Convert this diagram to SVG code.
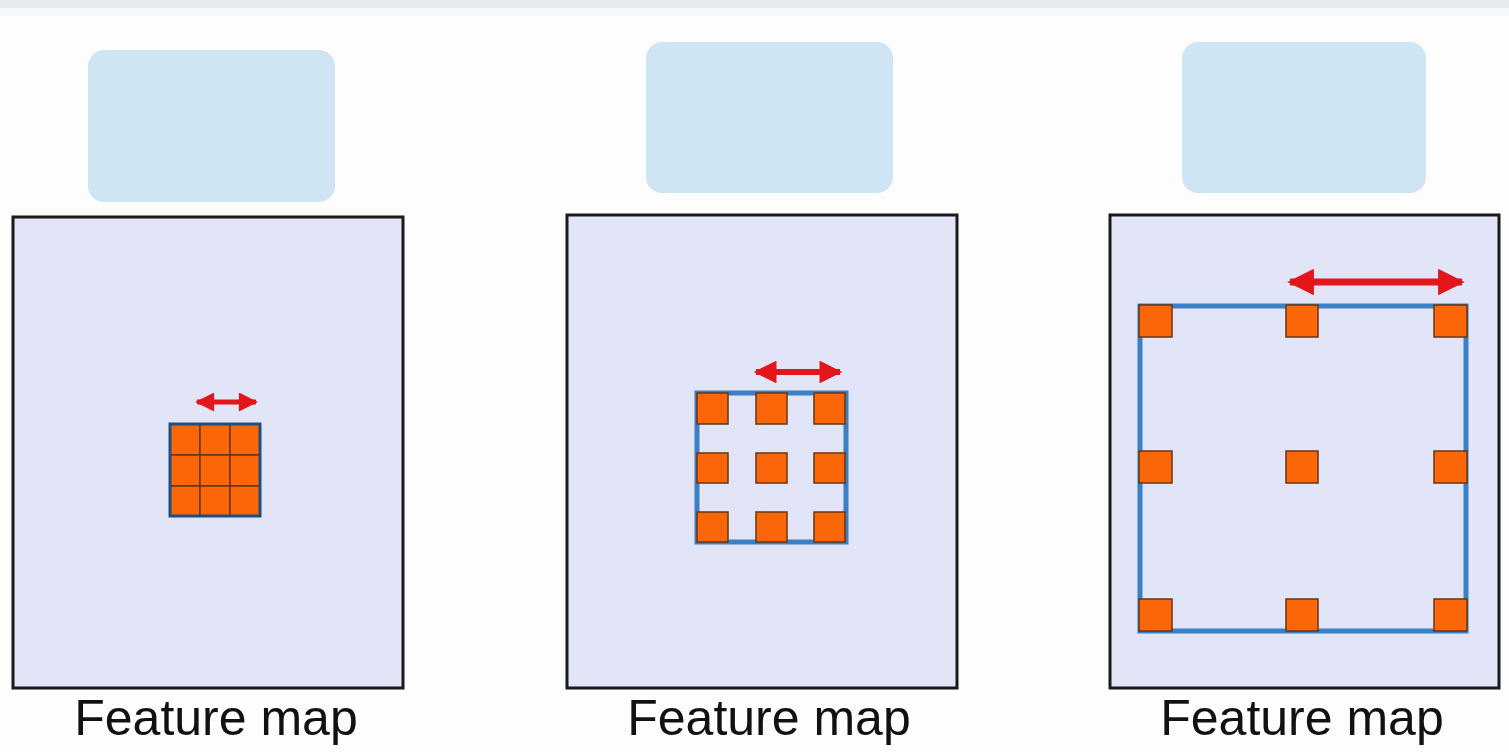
<svg xmlns="http://www.w3.org/2000/svg" width="1509" height="752" viewBox="0 0 1509 752">
<defs>
<style>
.bg{fill:#fdfdfe}
.top{fill:#d0e5f3}
.fm{fill:#e2e4f8;stroke:#1a1a1a;stroke-width:3}
.win{fill:none;stroke:#3a80c6;stroke-width:5}
.cell{fill:#fb6608;stroke:#6b3410;stroke-width:1.5}
.arrow{stroke:#e3161c;stroke-width:6;fill:none}
.lbl{font-family:"Liberation Sans",Arial,sans-serif;font-size:50px;fill:#111;text-anchor:middle}
</style>
<marker id="ah" viewBox="0 0 10 10" refX="9" refY="5" markerWidth="4" markerHeight="3.8" orient="auto-start-reverse" markerUnits="strokeWidth">
<path d="M0,0 L10,5 L0,10 z" fill="#e3161c"/>
</marker>
</defs>
<rect class="bg" x="0" y="0" width="1509" height="752"/>
<rect x="0" y="0" width="1509" height="8" fill="#e6eaee"/>
<rect x="0" y="8" width="1509" height="8" fill="#f6f7f8"/>

<g id="head1"><rect class="top" x="88" y="50" width="247" height="152" rx="16"/></g>
<g id="head2"><rect class="top" x="646" y="42" width="247" height="151" rx="16"/></g>
<g id="head3"><rect class="top" x="1182" y="42" width="244" height="151" rx="16"/></g>

<g id="map1">
<rect class="fm" x="13" y="217" width="390" height="471"/>
<g id="kernel1">
<rect class="cell" x="170" y="424" width="30" height="31"/>
<rect class="cell" x="200" y="424" width="30" height="31"/>
<rect class="cell" x="230" y="424" width="30" height="31"/>
<rect class="cell" x="170" y="455" width="30" height="31"/>
<rect class="cell" x="200" y="455" width="30" height="31"/>
<rect class="cell" x="230" y="455" width="30" height="31"/>
<rect class="cell" x="170" y="486" width="30" height="30"/>
<rect class="cell" x="200" y="486" width="30" height="30"/>
<rect class="cell" x="230" y="486" width="30" height="30"/>
<rect x="170" y="424" width="90" height="92" fill="none" stroke="#1f4f80" stroke-width="3"/>
</g>
<text class="lbl" x="216" y="735">Feature map</text>
</g>

<g id="map2">
<rect class="fm" x="567" y="215" width="390" height="473"/>
<rect class="win" x="697" y="393" width="149" height="149"/>
<rect class="cell" x="697" y="393" width="31" height="31"/>
<rect class="cell" x="756" y="393" width="31" height="31"/>
<rect class="cell" x="814" y="393" width="31" height="31"/>
<rect class="cell" x="697" y="453" width="31" height="30"/>
<rect class="cell" x="756" y="453" width="31" height="30"/>
<rect class="cell" x="814" y="453" width="31" height="30"/>
<rect class="cell" x="697" y="512" width="31" height="30"/>
<rect class="cell" x="756" y="512" width="31" height="30"/>
<rect class="cell" x="814" y="512" width="31" height="30"/>
<text class="lbl" x="769" y="735">Feature map</text>
</g>

<g id="map3">
<rect class="fm" x="1110" y="215" width="389" height="473"/>
<rect class="win" x="1140" y="306" width="326" height="325"/>
<rect class="cell" x="1139" y="305" width="33" height="32"/>
<rect class="cell" x="1286" y="305" width="32" height="32"/>
<rect class="cell" x="1434" y="305" width="33" height="32"/>
<rect class="cell" x="1139" y="451" width="33" height="32"/>
<rect class="cell" x="1286" y="451" width="32" height="32"/>
<rect class="cell" x="1434" y="451" width="33" height="32"/>
<rect class="cell" x="1139" y="599" width="33" height="32"/>
<rect class="cell" x="1286" y="599" width="32" height="32"/>
<rect class="cell" x="1434" y="599" width="33" height="32"/>
<text class="lbl" x="1302" y="735">Feature map</text>
</g>

<g id="connectors">
<line class="arrow" x1="197" y1="402" x2="256" y2="402" style="stroke-width:5" marker-start="url(#ah)" marker-end="url(#ah)"/>
<line class="arrow" x1="756" y1="372" x2="840" y2="372" style="stroke-width:6" marker-start="url(#ah)" marker-end="url(#ah)"/>
<line class="arrow" x1="1290" y1="282" x2="1462" y2="282" style="stroke-width:7" marker-start="url(#ah)" marker-end="url(#ah)"/>
</g>
</svg>
